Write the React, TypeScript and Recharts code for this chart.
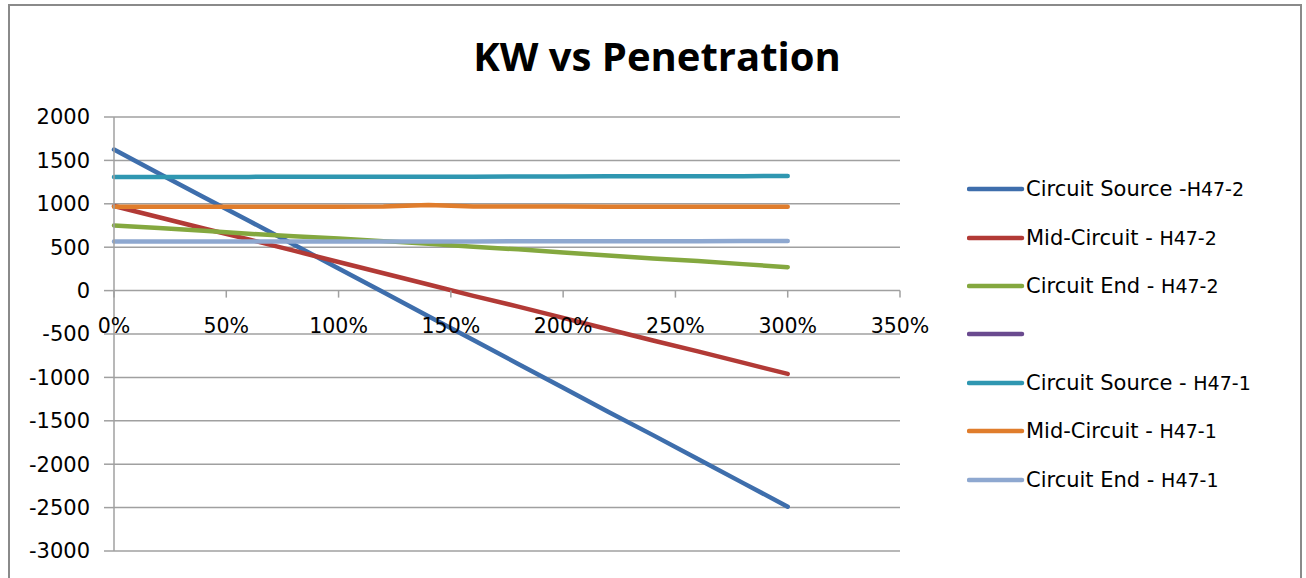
import React from 'react';
import { LineChart, Line, XAxis, YAxis, CartesianGrid } from 'recharts';

// Penetration (fraction, 1 = 100%)
const penetration = [0, 0.2, 0.4, 0.6, 0.8, 1.0, 1.2, 1.4, 1.6, 1.8, 2.0, 2.2, 2.4, 2.6, 2.8, 3.0];

const circuitSourceH472 = [1625, 1350, 1075, 805, 530, 255, -20, -295, -570, -845, -1120, -1395, -1665, -1940, -2215, -2490];
const midCircuitH472 = [975, 845, 715, 590, 460, 330, 200, 70, -60, -185, -315, -445, -575, -700, -830, -960];
const circuitEndH472 = [750, 720, 690, 655, 625, 600, 570, 540, 505, 475, 440, 405, 370, 340, 305, 270];
const emptySeries: (number | null)[] = [null, null, null, null, null, null, null, null, null, null, null, null, null, null, null, null];
const circuitSourceH471 = [1310, 1310, 1310, 1310, 1312, 1312, 1312, 1312, 1313, 1314, 1314, 1316, 1317, 1318, 1318, 1320];
const midCircuitH471 = [966, 966, 966, 966, 967, 967, 970, 985, 970, 968, 968, 967, 967, 967, 967, 967];
const circuitEndH471 = [565, 565, 565, 566, 566, 566, 567, 567, 567, 568, 568, 568, 569, 569, 570, 570];

const seriesLabels = [
  'Circuit Source -H47-2',
  'Mid-Circuit - H47-2',
  'Circuit End - H47-2',
  '',
  'Circuit Source - H47-1',
  'Mid-Circuit - H47-1',
  'Circuit End - H47-1',
];
const seriesColors = ['#3E6EAC', '#B23A36', '#84A83F', '#6A4A8F', '#2F97B1', '#E07D2C', '#8EA8D0'];
const seriesValues = [circuitSourceH472, midCircuitH472, circuitEndH472, emptySeries, circuitSourceH471, midCircuitH471, circuitEndH471];

const yTicks = [-3000, -2500, -2000, -1500, -1000, -500, 0, 500, 1000, 1500, 2000];
const xTicks = [0, 0.5, 1, 1.5, 2, 2.5, 3, 3.5];
const Y_MIN = -3000;
const Y_MAX = 2000;

const CHART_W = 1306;
const CHART_H = 578;
const MARGIN = { top: 117, right: 406, bottom: 26, left: 54 };
const X_AXIS_H = 1;
const PLOT_TOP = MARGIN.top;
const PLOT_H = CHART_H - MARGIN.top - MARGIN.bottom - X_AXIS_H;
const ZERO_Y = PLOT_TOP + (PLOT_H * (Y_MAX - 0)) / (Y_MAX - Y_MIN);

const data = penetration.map((p, i) => {
  const row: Record<string, number | null> = { x: p };
  seriesValues.forEach((vals, s) => {
    row['s' + s] = vals[i];
  });
  return row;
});

const GRID = '#A0A0A0';
const FONT = '"DejaVu Sans", sans-serif';

const XTick = (props: any) => {
  const { x, payload } = props;
  const label = Math.round(payload.value * 100) + '%';
  return (
    <g>
      <line x1={x} x2={x} y1={ZERO_Y} y2={ZERO_Y + 7} stroke={GRID} strokeWidth={1.5} />
      <text x={x} y={ZERO_Y + 42} textAnchor="middle" fontSize={20.5} fontFamily={FONT} fill="#000">
        {label}
      </text>
    </g>
  );
};

const LegendBox = () => (
  <div style={{ position: 'absolute', left: 967, top: 165, width: 330, display: 'flex', flexDirection: 'column' }}>
    {seriesLabels.map((label, i) => {
      const idx = label.indexOf('H47');
      const head = idx >= 0 ? label.slice(0, idx) : label;
      const tail = idx >= 0 ? label.slice(idx) : '';
      return (
        <div key={i} style={{ height: 48.4, display: 'flex', alignItems: 'center' }}>
          <svg width={59} height={10} style={{ flex: 'none' }}>
            <line x1={2} x2={55} y1={5} y2={5} stroke={seriesColors[i]} strokeWidth={4.5} strokeLinecap="round" />
          </svg>
          <span style={{ fontFamily: FONT, fontSize: 21, color: '#000', whiteSpace: 'pre', lineHeight: '24px' }}>
            {head}
            <span style={{ fontSize: 19 }}>{tail}</span>
          </span>
        </div>
      );
    })}
  </div>
);

export default function App() {
  return (
    <div style={{ position: 'absolute', left: 0, top: 0, width: CHART_W, height: CHART_H, background: '#fff', overflow: 'hidden' }}>
      <div
        style={{
          position: 'absolute',
          left: 8,
          top: 4,
          width: 1294,
          height: 600,
          border: '2px solid #8A8A8A',
          boxSizing: 'border-box',
        }}
      />
      <div
        style={{
          position: 'absolute',
          left: 0,
          width: CHART_W,
          top: 30,
          textAlign: 'center',
          fontFamily: '"Open Sans", sans-serif',
          fontWeight: 700,
          fontSize: 40,
          lineHeight: '52px',
          color: '#000',
          paddingLeft: 4,
        }}
      >
        KW vs Penetration
      </div>
      <div style={{ position: 'absolute', left: 0, top: 0 }}>
        <LineChart width={CHART_W} height={CHART_H} data={data} margin={MARGIN}>
          <CartesianGrid horizontal={true} vertical={false} stroke={GRID} strokeWidth={1.5} />
          <XAxis
            dataKey="x"
            type="number"
            domain={[0, 3.5]}
            ticks={xTicks}
            axisLine={false}
            tickLine={false}
            height={X_AXIS_H}
            tick={<XTick />}
            interval={0}
          />
          <YAxis
            type="number"
            domain={[Y_MIN, Y_MAX]}
            ticks={yTicks}
            interval={0}
            width={60}
            axisLine={{ stroke: GRID, strokeWidth: 1.5 }}
            tickLine={{ stroke: GRID, strokeWidth: 1.5 }}
            tickSize={10}
            tickMargin={14}
            tick={{ fontSize: 21, fontFamily: FONT, fill: '#000' }}
          />
          {seriesLabels.map((label, i) => (
            <Line
              key={i}
              type="linear"
              dataKey={'s' + i}
              name={label || ' '}
              stroke={seriesColors[i]}
              strokeWidth={4.5}
              strokeLinecap="round"
              strokeLinejoin="round"
              dot={false}
              activeDot={false}
              isAnimationActive={false}
              connectNulls={false}
            />
          ))}
        </LineChart>
      </div>
      <LegendBox />
    </div>
  );
}
